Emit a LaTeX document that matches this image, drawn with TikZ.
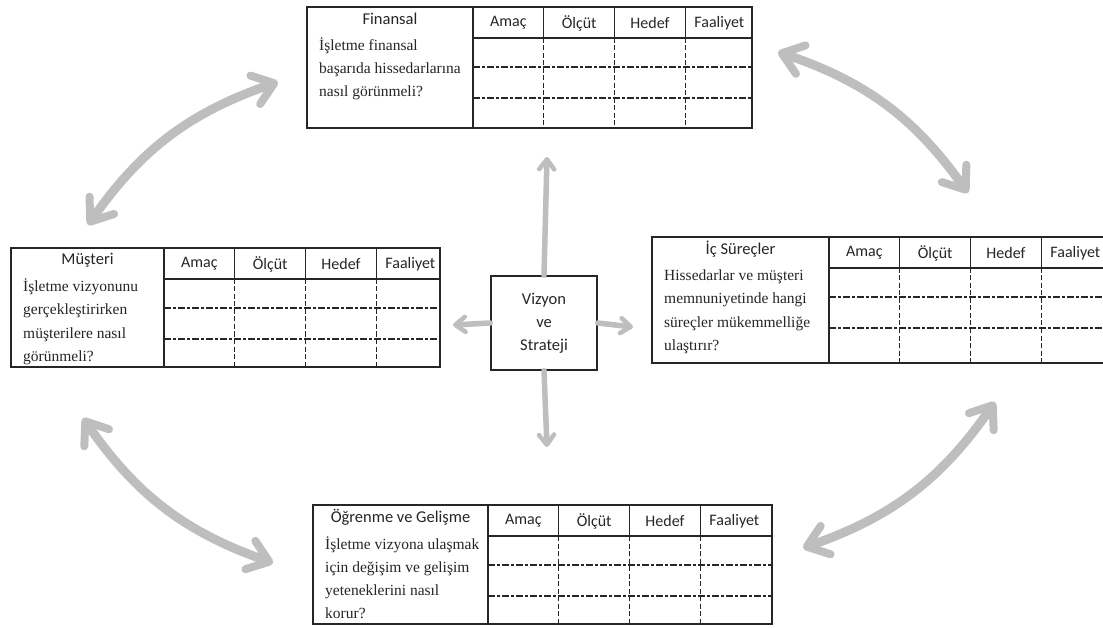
\documentclass[tikz,border=0pt]{standalone}
\usepackage{fontspec}
\setmainfont{Liberation Serif}
\newfontfamily\hdrfont{Carlito}
\usetikzlibrary{arrows.meta,fit}

\definecolor{arrowgray}{RGB}{190,190,190}
\definecolor{ink}{RGB}{38,38,38}

\tikzset{
  frame/.style={draw=ink, line width=1.4pt, inner sep=0pt},
  rule/.style={draw=ink, line width=1.2pt},
  vdash/.style={draw=ink, line width=1.1pt, dash pattern=on 5pt off 2.5pt},
  hdash/.style={draw=ink, line width=1.1pt, dash pattern=on 7pt off 2pt on 3pt off 2pt},
  colhead/.style={font=\hdrfont\fontsize{16}{19}\selectfont, text=ink, inner sep=0pt},
  perspective/.style={font=\hdrfont\fontsize{16.5}{19}\selectfont, text=ink, inner sep=0pt},
  qline/.style={font=\fontsize{15.5}{23}\selectfont, text=ink, anchor=base west, inner sep=0pt},
  bigtip/.tip={Straight Barb[length=20pt, width=30pt, line width=8pt, round]},
  smalltip/.tip={Straight Barb[length=10pt, width=15pt, line width=4.5pt, round]},
  cycle arrow/.style={draw=arrowgray, line width=9pt, line cap=round, arrows={bigtip-bigtip}},
  hub arrow/.style={draw=arrowgray, line width=5.5pt, line cap=round, arrows={-smalltip}},
  hub/.style={draw=ink, line width=1.4pt, minimum width=106pt, minimum height=94pt,
    align=center, font=\hdrfont\fontsize{16.5}{23}\selectfont, text=ink},
}

% #1 name, #2 left, #3 top, #4 right, #5 bottom, #6 first column x,
% #7 perspective title, #8 question lines (comma separated)
\newcommand\bsctable[8]{%
  \node[frame, fit={(#2,#3) (#4,#5)}] (#1) {};
  \draw[rule] (#6,#3) -- (#6,#5);
  \draw[rule] (#6,#3+31) -- (#4,#3+31);
  \foreach \k in {1,2,3} {
    \draw[rule]  (#6+70.8*\k,#3) -- (#6+70.8*\k,#3+31);
    \draw[vdash] (#6+70.8*\k,#3+31) -- (#6+70.8*\k,#5);
  }
  \draw[hdash] (#6,#3+60) -- (#4,#3+60);
  \draw[hdash] (#6,#3+91) -- (#4,#3+91);
  \node[colhead] (#1-amac)  at (#6+35.4,#3+16) {Amaç};
  \node[colhead] (#1-olcut) at (#6+106.2,#3+16) {Ölçüt};
  \node[colhead] (#1-hedef) at (#6+177,#3+16) {Hedef};
  \node[colhead] (#1-faal)  at (#6+246.4,#3+16) {Faaliyet};
  \node[perspective] (#1-title) at ({(#2+#6)/2},#3+12) {#7};
  \foreach \ln [count=\i] in {#8} {
    \node[qline] (#1-q\i) at (#2+12,#3+44+23*\i-23) {\ln};
  }
}

\begin{document}
\begin{tikzpicture}[x=1pt, y=-1pt]
  \useasboundingbox (0,0) rectangle (1103,628);
  \clip (0,0) rectangle (1103,628);
  \fill[white] (0,0) rectangle (1103,628);

  % the four perspectives
  \bsctable{fin}{307}{7}{752}{128}{473}{Finansal}
    {İşletme finansal, başarıda hissedarlarına, nasıl görünmeli?}
  \bsctable{mus}{11}{248}{440}{367}{164}{Müşteri}
    {İşletme vizyonunu, gerçekleştirirken, müşterilere nasıl, görünmeli?}
  \bsctable{ics}{652}{237}{1112}{363}{829}{İç Süreçler}
    {Hissedarlar ve müşteri, memnuniyetinde hangi, süreçler mükemmelliğe, ulaştırır?}
  \bsctable{ogr}{313}{505}{772}{624}{488}{Öğrenme ve Gelişme}
    {İşletme vizyona ulaşmak, için değişim ve gelişim, yeteneklerini nasıl, korur?}

  % vision and strategy in the middle
  \node[hub] (vs) at (544,323) {Vizyon\\ve\\Strateji};

  \coordinate (vs-up)    at (547,157);
  \coordinate (vs-down)  at (547,447);
  \coordinate (vs-left)  at (453,325);
  \coordinate (vs-right) at (633,327);
  \draw[hub arrow] (vs.north) -- (vs-up);
  \draw[hub arrow] (vs.south) -- (vs-down);
  \draw[hub arrow] (vs.west)  -- (vs-left);
  \draw[hub arrow] (vs.east)  -- (vs-right);

  % the cycle between the perspectives
  \coordinate (mus-top)    at (88,225);
  \coordinate (fin-left)   at (278,82);
  \coordinate (fin-right)  at (778,52);
  \coordinate (ics-top)    at (968,193);
  \coordinate (ics-bottom) at (995,402);
  \coordinate (ogr-right)  at (803,548);
  \coordinate (ogr-left)   at (273,563);
  \coordinate (mus-bottom) at (83,418);
  \draw[cycle arrow] (mus-top)    to[bend left=18] (fin-left);
  \draw[cycle arrow] (fin-right)  to[bend left=18] (ics-top);
  \draw[cycle arrow] (ics-bottom) to[bend left=18] (ogr-right);
  \draw[cycle arrow] (ogr-left)   to[bend left=18] (mus-bottom);
\end{tikzpicture}
\end{document}
